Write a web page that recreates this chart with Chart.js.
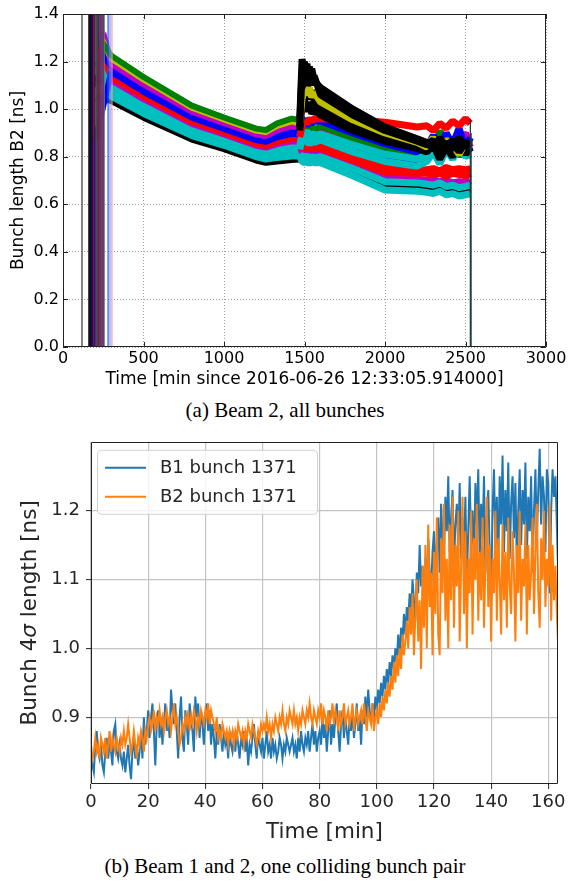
<!DOCTYPE html>
<html>
<head>
<meta charset="utf-8">
<script src="https://cdn.jsdelivr.net/npm/chart.js@4.4.0/dist/chart.umd.min.js"></script>
<style>
  html, body { margin: 0; padding: 0; background: #fff; }
  #page { position: relative; width: 570px; height: 883px; overflow: hidden; }
  .wrap { position: absolute; left: 0; width: 570px; }
  .caption {
    position: absolute; left: 0; width: 570px; text-align: center;
    font-family: "Liberation Serif", "Times New Roman", serif;
    font-size: 21px; line-height: 24px; color: #000;
  }
</style>
</head>
<body>
<div id="page">
  <div class="wrap" style="top:0;height:395px"><canvas id="topChart" width="570" height="395"></canvas></div>
  <div class="caption" style="top:398px">(a) Beam 2, all bunches</div>
  <div class="wrap" style="top:425px;height:425px"><canvas id="botChart" width="570" height="425"></canvas></div>
  <div class="caption" style="top:854px">(b) Beam 1 and 2, one colliding bunch pair</div>
</div>
<script>
// ---------- (a) beam 2, all bunches ----------
const xTicksTop = [0, 500, 1000, 1500, 2000, 2500, 3000];
const yTicksTop = [0, 0.2, 0.4, 0.6, 0.8, 1.0, 1.2, 1.4];

// sample times [min] for the bunch traces
const tGrid = [300, 500, 800, 1000, 1200, 1260, 1330, 1420, 1470, 1485, 1500, 1515, 1530, 1545,
               1560, 1600, 1800, 2000, 2200, 2260, 2300, 2340, 2380, 2420, 2460, 2500, 2530];
const splitAt = 8; // tGrid index (1470 min) where the bunches reshuffle

const bunchBlack1   = [1.034,0.964,0.872,0.832,0.784,0.774,0.780,0.786,0.788,0.79,0.785,0.79,0.78,0.79,0.785,0.785,0.735,0.675,0.67,0.665,0.67,0.66,0.665,0.66,0.655,0.66,0.665];
const bunchCyan4    = [1.052,0.980,0.887,0.846,0.798,0.788,0.795,0.801,0.801,0.78,0.775,0.78,0.77,0.78,0.775,0.775,0.72,0.66,0.655,0.65,0.645,0.655,0.64,0.645,0.635,0.64,0.645];
const bunchMagenta2 = [1.121,1.042,0.938,0.894,0.846,0.838,0.853,0.865,0.862,0.82,0.815,0.825,0.81,0.82,0.815,0.815,0.765,0.715,0.705,0.70,0.705,0.695,0.70,0.69,0.695,0.69,0.70];
const bunchRed3     = [1.109,1.032,0.929,0.886,0.838,0.830,0.843,0.854,0.852,0.84,0.835,0.845,0.83,0.84,0.835,0.835,0.785,0.735,0.73,0.73,0.725,0.73,0.72,0.73,0.725,0.72,0.73];
const bunchRed1     = [1.133,1.053,0.947,0.901,0.854,0.846,0.862,0.875,0.873,0.86,0.85,0.86,0.85,0.86,0.85,0.855,0.80,0.755,0.745,0.745,0.75,0.74,0.755,0.745,0.75,0.745,0.75];
const bunchCyan3    = [1.063,0.990,0.895,0.854,0.806,0.797,0.804,0.812,0.811,0.80,0.795,0.805,0.79,0.80,0.795,0.80,0.75,0.695,0.69,0.685,0.68,0.69,0.675,0.68,0.67,0.675,0.68];
const bunchBlue2    = [1.156,1.073,0.964,0.917,0.870,0.863,0.882,0.896,0.893,0.88,0.87,0.89,0.86,0.88,0.87,0.88,0.835,0.795,0.775,0.80,0.84,0.78,0.86,0.81,0.83,0.88,0.82];
const bunchMagenta1 = [1.190,1.104,0.989,0.941,0.894,0.887,0.911,0.928,0.924,0.91,0.90,0.92,0.89,0.91,0.90,0.91,0.865,0.825,0.80,0.82,0.87,0.80,0.89,0.81,0.86,0.90,0.84];
const bunchGreen    = [1.225,1.135,1.015,0.965,0.918,0.912,0.940,0.960,0.955,0.92,0.91,0.93,0.90,0.92,0.91,0.93,0.88,0.84,0.81,0.86,0.81,0.91,0.83,0.88,0.80,0.87,0.85];
const bunchBlue1    = [1.179,1.094,0.981,0.933,0.886,0.879,0.901,0.918,0.914,0.94,0.96,0.93,0.95,0.94,0.95,0.95,0.90,0.855,0.82,0.84,0.89,0.82,0.90,0.85,0.92,0.83,0.88];
const bunchCyan2    = [1.086,1.011,0.912,0.870,0.822,0.813,0.824,0.833,0.831,0.87,0.86,0.88,0.85,0.87,0.86,0.87,0.82,0.78,0.76,0.78,0.82,0.77,0.83,0.79,0.84,0.80,0.81];
const bunchCyan1    = [1.098,1.022,0.921,0.878,0.830,0.821,0.833,0.843,0.842,0.90,0.89,0.91,0.88,0.90,0.89,0.895,0.85,0.81,0.79,0.81,0.86,0.79,0.85,0.80,0.87,0.82,0.84];
const bunchRed2     = [1.144,1.063,0.955,0.909,0.862,0.854,0.872,0.886,0.883,0.93,0.95,0.94,0.96,0.95,0.96,0.96,0.955,0.945,0.925,0.93,0.91,0.94,0.92,0.95,0.93,0.96,0.94];
const bunchBlackC   = [1.185,1.099,0.985,0.937,0.890,0.883,0.906,0.923,0.91,1.02,1.04,0.99,1.03,0.98,1.00,0.975,0.91,0.865,0.835,0.82,0.85,0.79,0.84,0.80,0.86,0.83,0.82];
const bunchBlackB   = [1.075,1.001,0.904,0.862,0.814,0.805,0.814,0.822,0.92,1.10,1.06,1.12,1.04,1.08,1.03,1.00,0.935,0.885,0.85,0.83,0.86,0.80,0.85,0.82,0.87,0.81,0.84];
const bunchYellow   = [1.213,1.125,1.006,0.957,0.910,0.904,0.930,0.949,0.94,1.05,1.08,1.06,1.09,1.05,1.07,1.03,0.955,0.90,0.86,0.84,0.88,0.83,0.87,0.85,0.81,0.86,0.84];
const bunchBlackD   = [1.167,1.084,0.972,0.925,0.878,0.871,0.892,0.907,0.93,1.16,1.20,1.12,1.18,1.10,1.14,1.06,0.975,0.91,0.865,0.85,0.87,0.82,0.86,0.83,0.88,0.84,0.86];
const bunchBlackA   = [1.202,1.114,0.998,0.949,0.902,0.896,0.921,0.939,0.95,1.21,1.15,1.19,1.13,1.17,1.12,1.09,1.00,0.925,0.875,0.86,0.83,0.88,0.84,0.87,0.82,0.86,0.85];

// injection time [min] and first value of each trace (same order as bunchTraces below)
const injTimes = [205, 210, 255, 218, 225, 236, 200, 250, 245, 228, 235, 242, 215, 190, 220, 238, 183, 232];
const injPeaks = [1.05, 1.20, 1.27, 1.18, 1.26, 1.22, 0.87, 1.32, 1.28, 1.25, 1.29, 1.33, 1.20, 1.12, 1.15, 1.30, 1.10, 1.24];

// vertical jumps at injection and dump
const spikeTimes = [118, 160, 163, 166, 170, 174, 178, 182, 186, 190, 194, 198, 200, 204, 208, 212, 216,
                    220, 225, 228, 232, 236, 240, 244, 248, 252, 256, 280, 292, 304, 2530, 2535];
const spikeTops  = [1.45, 1.45, 1.45, 1.45, 1.45, 1.45, 1.45, 1.45, 1.45, 1.45, 1.45, 1.45, 0.87, 1.45, 1.45, 1.45, 1.45,
                    1.45, 1.26, 1.45, 1.45, 1.45, 1.45, 1.45, 1.45, 1.45, 1.45, 1.45, 1.45, 1.45, 0.96, 0.90];

// zero readings before injection and after dump
const baseTimes  = [0, 2535];
const baseValues = [0, 0];

// ---------- (b) one colliding pair ----------
const xTicksBot = [0, 20, 40, 60, 80, 100, 120, 140, 160];
const yTicksBot = [0.9, 1.0, 1.1, 1.2];
const sampleMinutes = 0.5;
const seriesLabels = ['B1 bunch 1371', 'B2 bunch 1371'];

const b1Values = [
  0.85,0.83,0.82,0.86,0.88,0.85,0.84,0.86,0.83,0.82,0.85,0.87,0.84,0.86,0.85,0.83,0.88,0.89,0.85,0.84,
  0.86,0.84,0.83,0.85,0.82,0.84,0.86,0.83,0.81,0.85,0.87,0.84,0.86,0.83,0.85,0.88,0.84,0.90,0.86,0.88,
  0.91,0.87,0.90,0.92,0.88,0.83,0.89,0.91,0.87,0.90,0.86,0.89,0.92,0.88,0.90,0.87,0.94,0.91,0.89,0.92,
  0.88,0.84,0.90,0.93,0.87,0.85,0.91,0.89,0.86,0.92,0.90,0.88,0.85,0.93,0.90,0.92,0.87,0.91,0.89,0.86,
  0.90,0.92,0.88,0.91,0.86,0.89,0.87,0.84,0.88,0.86,0.89,0.87,0.85,0.88,0.86,0.87,0.84,0.88,0.86,0.85,
  0.87,0.85,0.88,0.86,0.84,0.87,0.86,0.88,0.85,0.87,0.83,0.86,0.85,0.87,0.89,0.86,0.84,0.88,0.86,0.85,
  0.87,0.84,0.86,0.88,0.85,0.86,0.84,0.87,0.85,0.86,0.84,0.85,0.87,0.86,0.84,0.86,0.85,0.87,0.86,0.85,
  0.86,0.87,0.85,0.86,0.84,0.87,0.85,0.88,0.86,0.85,0.87,0.86,0.88,0.85,0.87,0.89,0.86,0.88,0.85,0.87,
  0.88,0.86,0.90,0.87,0.89,0.85,0.88,0.91,0.86,0.89,0.87,0.90,0.92,0.88,0.85,0.89,0.91,0.87,0.90,0.88,
  0.86,0.90,0.88,0.91,0.87,0.89,0.92,0.88,0.90,0.86,0.91,0.89,0.93,0.90,0.94,0.91,0.89,0.92,0.90,0.93,
  0.91,0.94,0.92,0.95,0.93,0.96,0.94,0.97,0.95,0.98,0.96,0.99,0.97,1.00,0.98,1.02,0.99,1.03,1.01,1.05,
  1.02,1.06,1.04,1.08,1.05,1.10,1.07,1.04,1.11,1.08,1.15,1.09,1.12,1.06,1.13,1.10,1.16,1.11,1.08,1.14,
  1.17,1.12,1.15,1.19,1.11,1.21,1.16,1.13,1.22,1.17,1.25,1.14,1.19,1.23,1.12,1.18,1.21,1.15,1.24,1.13,
  1.19,1.14,1.22,1.10,1.17,1.25,1.15,1.20,1.12,1.24,1.18,1.26,1.13,1.21,1.16,1.25,1.11,1.19,1.23,1.14,
  1.07,1.20,1.26,1.15,1.22,1.12,1.25,1.18,1.28,1.14,1.23,1.17,1.27,1.13,1.21,1.25,1.16,1.24,1.12,1.20,
  1.26,1.15,1.23,1.18,1.27,1.13,1.22,1.17,1.25,1.11,1.20,1.26,1.16,1.23,1.29,1.18,1.25,1.22,1.14,1.26,
  1.24,1.08,1.20,1.26,1.22,1.25,1.18,1.10
];
const b2Values = [
  0.86,0.84,0.85,0.87,0.85,0.86,0.84,0.87,0.86,0.85,0.87,0.84,0.86,0.88,0.85,0.87,0.86,0.85,0.87,0.86,
  0.85,0.87,0.86,0.88,0.86,0.87,0.89,0.87,0.85,0.86,0.88,0.86,0.84,0.87,0.86,0.88,0.87,0.85,0.88,0.87,
  0.89,0.90,0.88,0.89,0.91,0.88,0.90,0.89,0.91,0.89,0.90,0.88,0.90,0.91,0.89,0.90,0.88,0.90,0.92,0.89,
  0.90,0.88,0.86,0.87,0.89,0.88,0.90,0.89,0.91,0.88,0.90,0.89,0.91,0.90,0.88,0.90,0.89,0.91,0.90,0.89,
  0.91,0.90,0.92,0.89,0.91,0.90,0.89,0.88,0.90,0.87,0.88,0.87,0.89,0.88,0.87,0.88,0.86,0.88,0.87,0.88,
  0.86,0.88,0.87,0.89,0.88,0.87,0.88,0.86,0.88,0.87,0.89,0.88,0.87,0.89,0.88,0.87,0.86,0.88,0.87,0.89,
  0.88,0.89,0.88,0.90,0.88,0.89,0.87,0.89,0.88,0.90,0.89,0.88,0.90,0.89,0.91,0.89,0.88,0.90,0.89,0.91,
  0.90,0.89,0.91,0.89,0.90,0.88,0.90,0.89,0.91,0.90,0.89,0.91,0.90,0.92,0.90,0.89,0.91,0.90,0.89,0.91,
  0.90,0.92,0.89,0.91,0.90,0.88,0.91,0.89,0.90,0.92,0.89,0.91,0.90,0.88,0.91,0.89,0.90,0.92,0.89,0.90,
  0.91,0.89,0.90,0.92,0.88,0.90,0.91,0.89,0.90,0.91,0.89,0.92,0.90,0.88,0.91,0.90,0.89,0.92,0.88,0.90,
  0.91,0.89,0.92,0.90,0.93,0.91,0.94,0.92,0.95,0.93,0.96,0.94,0.98,0.95,0.99,0.96,1.00,0.97,1.02,0.99,
  1.01,1.04,1.00,1.06,1.02,1.08,0.99,1.05,1.10,1.01,1.07,0.97,1.12,1.03,1.15,1.00,1.18,1.06,1.11,0.99,
  1.14,1.05,1.19,1.02,0.99,1.16,1.08,1.21,1.04,1.13,1.00,1.18,1.07,1.22,1.03,1.15,1.09,1.20,1.01,1.12,
  1.22,1.05,1.17,1.00,1.13,1.08,1.20,1.02,1.16,1.10,1.21,1.04,1.14,1.07,1.19,1.03,1.12,1.22,1.06,1.15,
  1.01,1.13,1.08,1.20,1.04,1.16,1.10,1.02,1.18,1.07,1.14,1.03,1.19,1.09,1.05,1.17,1.11,1.01,1.15,1.08,
  1.20,1.04,1.13,1.09,1.18,1.02,1.15,1.07,1.11,1.19,1.05,1.14,1.21,1.08,1.03,1.16,1.10,1.20,1.06,1.13,
  1.09,1.21,1.04,1.15,1.07,1.12,1.05,1.00
];

// matplotlib classic colours
const C = { b: '#0000ff', g: '#008000', r: '#ff0000', c: '#00bfbf', m: '#bf00bf', y: '#bfbf00', k: '#000000' };

const bunchTraces = [
  [bunchBlack1, C.k], [bunchCyan4, C.c], [bunchMagenta2, C.m], [bunchRed3, C.r],
  [bunchRed1, C.r], [bunchCyan3, C.c], [bunchBlue2, C.b], [bunchMagenta1, C.m],
  [bunchGreen, C.g], [bunchBlue1, C.b], [bunchCyan2, C.c], [bunchCyan1, C.c],
  [bunchRed2, C.r], [bunchBlackC, C.k], [bunchBlackB, C.k], [bunchYellow, C.y],
  [bunchBlackD, C.k], [bunchBlackA, C.k]
];
// paint order (bottom -> top) before and after the reshuffle
const earlyStack = [17, 14, 13, 16, 3, 12, 0, 1, 5, 10, 11, 2, 4, 6, 9, 7, 15, 8];
const lateStack  = [0, 1, 2, 3, 4, 5, 6, 7, 8, 9, 10, 11, 12, 13, 14, 15, 16, 17];

const spikeColors = ['#333333', '#555555', '#000000', '#111111', '#222222', '#000000', '#111111', '#0000ff', '#000080',
                     '#ff0000', '#400000', '#333333', '#0000ff', '#444444', '#4a3a5a', '#555555', '#4a3a5a',
                     '#333333', '#ff0000', '#603070', '#7a2a8a', '#603070', '#7a2a8a', '#555555', '#7a2a8a',
                     '#333333', '#777777', '#2255ff', '#7799ff', '#ff9999', '#103030', '#204040'];

const FONT = '"DejaVu Sans", Verdana, sans-serif';

// full box around the plot, optional inward ticks on every side
const frameBox = {
  id: 'frameBox',
  afterDatasetsDraw(chart, args, opts) {
    const { ctx, chartArea: a, scales: { x, y } } = chart;
    ctx.save();
    ctx.strokeStyle = opts.color;
    ctx.lineWidth = 1;
    ctx.beginPath();
    if (opts.inward) {
      const L = opts.tickLen;
      x.ticks.forEach(t => {
        const p = Math.round(x.getPixelForValue(t.value)) + 0.5;
        ctx.moveTo(p, a.bottom); ctx.lineTo(p, a.bottom - L);
        ctx.moveTo(p, a.top); ctx.lineTo(p, a.top + L);
      });
      y.ticks.forEach(t => {
        const p = Math.round(y.getPixelForValue(t.value)) + 0.5;
        ctx.moveTo(a.left, p); ctx.lineTo(a.left + L, p);
        ctx.moveTo(a.right, p); ctx.lineTo(a.right - L, p);
      });
    }
    ctx.rect(Math.round(a.left) + 0.5, Math.round(a.top) + 0.5, Math.round(a.width) - 1, Math.round(a.height) - 1);
    ctx.stroke();
    ctx.restore();
  }
};

// ---- top chart datasets ----
const tracePoints = bunchTraces.map(([vals], k) =>
  [{ x: injTimes[k], y: injPeaks[k] }].concat(tGrid.map((t, i) => ({ x: t, y: vals[i] }))));

const topSets = [];
topSets.push({ data: baseTimes.map((t, i) => ({ x: t, y: baseValues[i] })), borderColor: '#1b1b5e', borderWidth: 2 });
earlyStack.forEach(k => {
  topSets.push({ data: tracePoints[k].slice(0, splitAt + 2), borderColor: bunchTraces[k][1], borderWidth: 6 });
});
lateStack.forEach(k => {
  topSets.push({ data: tracePoints[k].slice(splitAt + 1), borderColor: bunchTraces[k][1], borderWidth: 7 });
});
spikeTimes.forEach((t, i) => {
  topSets.push({ data: [{ x: t, y: 0 }, { x: t, y: spikeTops[i] }], borderColor: spikeColors[i], borderWidth: 1.2 });
});
// higher order is painted first
topSets.forEach((d, i) => { d.order = topSets.length - i; d.clip = 0; });

new Chart(document.getElementById('topChart'), {
  type: 'line',
  data: { datasets: topSets },
  options: {
    responsive: false,
    animation: false,
    devicePixelRatio: 1,
    layout: { padding: { top: 14, right: 24, bottom: 0, left: 0 } },
    elements: { point: { radius: 0 }, line: { tension: 0, borderJoinStyle: 'bevel' } },
    plugins: { legend: { display: false }, tooltip: { enabled: false },
      frameBox: { color: '#222', inward: true, tickLen: 5 } },
    scales: {
      x: {
        type: 'linear', min: 0, max: 3000,
        afterBuildTicks: s => { s.ticks = xTicksTop.map(v => ({ value: v })); },
        afterFit: s => { s.height = 48; },
        grid: { color: 'rgba(0,0,0,0.38)', lineWidth: 1, drawTicks: false },
        border: { display: false, dash: [1, 2] },
        ticks: { font: { family: FONT, size: 16 }, color: '#000', padding: 2, maxRotation: 0, callback: v => String(v) },
        title: { display: true, text: 'Time [min since 2016-06-26 12:33:05.914000]', color: '#000',
                 font: { family: FONT, size: 17 }, padding: { top: 0, bottom: 5 } }
      },
      y: {
        type: 'linear', min: 0, max: 1.4,
        afterBuildTicks: s => { s.ticks = yTicksTop.map(v => ({ value: v })); },
        afterFit: s => { s.width = 63; },
        grid: { color: 'rgba(0,0,0,0.38)', lineWidth: 1, drawTicks: false },
        border: { display: false, dash: [1, 2] },
        ticks: { font: { family: FONT, size: 16 }, color: '#000', padding: 4, callback: v => v.toFixed(1) },
        title: { display: true, text: 'Bunch length B2 [ns]', color: '#000',
                 font: { family: FONT, size: 17 }, padding: { top: 8, bottom: 0 } }
      }
    }
  },
  plugins: [frameBox]
});

// ---- bottom chart ----
const inkDark = '#262626';

// legend box drawn inside the plot, top-left
const cornerLegend = {
  id: 'cornerLegend',
  afterDatasetsDraw(chart) {
    const { ctx, chartArea: a } = chart;
    const x0 = a.left + 6, y0 = a.top + 8, w = 220, h = 64, r = 4;
    ctx.save();
    ctx.beginPath();
    ctx.roundRect(x0 + 0.5, y0 + 0.5, w, h, r);
    ctx.fillStyle = 'rgba(255,255,255,0.8)';
    ctx.fill();
    ctx.strokeStyle = '#d0d0d0';
    ctx.lineWidth = 1;
    ctx.stroke();
    ctx.font = '18px ' + FONT;
    ctx.textBaseline = 'middle';
    chart.data.datasets.forEach((d, i) => {
      const yy = y0 + 18 + i * 29;
      ctx.strokeStyle = d.borderColor;
      ctx.lineWidth = 2;
      ctx.beginPath();
      ctx.moveTo(x0 + 8, yy); ctx.lineTo(x0 + 49, yy);
      ctx.stroke();
      ctx.fillStyle = inkDark;
      ctx.fillText(d.label, x0 + 63, yy + 1);
    });
    ctx.restore();
  }
};

// y title with an italic sigma
const sigmaTitle = {
  id: 'sigmaTitle',
  afterDraw(chart) {
    const { ctx, chartArea: a } = chart;
    const parts = [['Bunch 4', ''], ['σ', 'italic '], [' length [ns]', '']];
    ctx.save();
    ctx.translate(30, (a.top + a.bottom) / 2);
    ctx.rotate(-Math.PI / 2);
    ctx.fillStyle = inkDark;
    ctx.textBaseline = 'middle';
    let total = 0;
    parts.forEach(p => { ctx.font = p[1] + '21.5px ' + FONT; total += ctx.measureText(p[0]).width; });
    let xx = -total / 2;
    parts.forEach(p => {
      ctx.font = p[1] + '21.5px ' + FONT;
      ctx.fillText(p[0], xx, 0);
      xx += ctx.measureText(p[0]).width;
    });
    ctx.restore();
  }
};

const toPoints = vals => vals.map((v, i) => ({ x: i * sampleMinutes, y: v }));

new Chart(document.getElementById('botChart'), {
  type: 'line',
  data: {
    datasets: [
      { label: seriesLabels[0], data: toPoints(b1Values), borderColor: '#1f77b4', borderWidth: 2, order: 2 },
      { label: seriesLabels[1], data: toPoints(b2Values), borderColor: '#ff7f0e', borderWidth: 2, order: 1 }
    ]
  },
  options: {
    responsive: false,
    animation: false,
    devicePixelRatio: 1,
    layout: { padding: { top: 12, right: 12, bottom: 0, left: 0 } },
    elements: { point: { radius: 0 }, line: { tension: 0 } },
    plugins: { legend: { display: false }, tooltip: { enabled: false },
      frameBox: { color: '#222', inward: false } },
    scales: {
      x: {
        type: 'linear', min: 0, max: 163.4,
        afterBuildTicks: s => { s.ticks = xTicksBot.map(v => ({ value: v })); },
        afterFit: s => { s.height = 66; },
        grid: { color: '#c4c4c4', lineWidth: 1.2, tickLength: 5, tickColor: inkDark, tickWidth: 1 },
        border: { display: false },
        ticks: { font: { family: FONT, size: 18 }, color: inkDark, padding: 3, maxRotation: 0, callback: v => String(v) },
        title: { display: true, text: 'Time [min]', color: inkDark,
                 font: { family: FONT, size: 21.5 }, padding: { top: 0, bottom: 5 } }
      },
      y: {
        type: 'linear', min: 0.803, max: 1.30,
        afterBuildTicks: s => { s.ticks = yTicksBot.map(v => ({ value: v })); },
        afterFit: s => { s.width = 91; },
        grid: { color: '#c4c4c4', lineWidth: 1.2, tickLength: 5, tickColor: inkDark, tickWidth: 1 },
        border: { display: false },
        ticks: { font: { family: FONT, size: 18 }, color: inkDark, padding: 6, callback: v => v.toFixed(1) }
      }
    }
  },
  plugins: [frameBox, cornerLegend, sigmaTitle]
});
</script>
</body>
</html>
